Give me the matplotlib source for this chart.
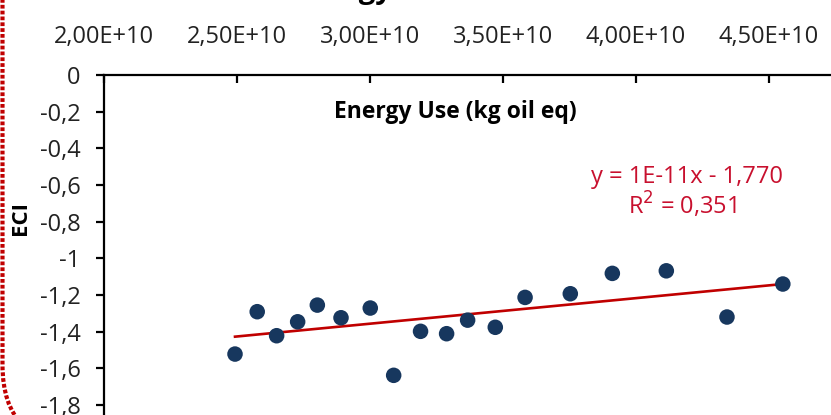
import numpy as np
import matplotlib
matplotlib.use("Agg")
import matplotlib.pyplot as plt
from matplotlib.patches import FancyBboxPatch
from matplotlib.transforms import Affine2D

# ---- data ----
energy_use = [2.4925e10, 2.576e10, 2.649e10, 2.728e10, 2.802e10, 2.891e10,
              3.001e10, 3.089e10, 3.190e10, 3.288e10, 3.367e10, 3.471e10,
              3.583e10, 3.753e10, 3.911e10, 4.114e10, 4.342e10, 4.552e10]
eci = [-1.522, -1.291, -1.422, -1.346, -1.255, -1.324,
       -1.271, -1.638, -1.398, -1.411, -1.337, -1.376,
       -1.213, -1.193, -1.082, -1.068, -1.320, -1.140]

xtick_values = [2.0e10, 2.5e10, 3.0e10, 3.5e10, 4.0e10, 4.5e10]
xtick_labels = ["2,00E+10", "2,50E+10", "3,00E+10", "3,50E+10", "4,00E+10", "4,50E+10"]
ytick_values = [0, -0.2, -0.4, -0.6, -0.8, -1.0, -1.2, -1.4, -1.6, -1.8]
ytick_labels = ["0", "-0,2", "-0,4", "-0,6", "-0,8", "-1", "-1,2", "-1,4", "-1,6", "-1,8"]

equation_text = "y = 1E-11x - 1,770"
r2_text = "R$^2$ = 0,351"
x_label = "Energy Use (kg oil eq)"
y_label = "ECI"
title_text = "Energy Use"

# ---- figure ----
W, H = 831, 415
plt.rcParams['font.family'] = ['Open Sans', 'DejaVu Sans']
fig = plt.figure(figsize=(W / 100, H / 100), dpi=100)

left_px, top_px = 104, 75
ax = fig.add_axes([left_px / W, 0, 1 - left_px / W, (H - top_px) / H])
x_per_px = 0.5e10 / 133.0
y_per_px = 0.2 / 36.67
ax.set_xlim(2.0e10, 2.0e10 + (W - left_px) * x_per_px)
ax.set_ylim(-(H - top_px) * y_per_px, 0)

navy = "#17375E"
red = "#C00000"

ax.scatter(energy_use, eci, s=125, color=navy, edgecolors='none', zorder=3)

# linear trendline
xs = np.array(energy_use)
coef = np.polyfit(xs, np.array(eci), 1)
xl = np.array([xs.min(), xs.max()])
ax.plot(xl, np.polyval(coef, xl), color=red, lw=1.9, zorder=2)

# axes styling
ax.spines['right'].set_visible(False)
ax.spines['bottom'].set_visible(False)
ax.spines['top'].set_linewidth(1.6)
ax.spines['left'].set_linewidth(1.6)
ax.xaxis.tick_top()
ax.set_xticks(xtick_values)
ax.set_xticklabels(xtick_labels)
ax.set_yticks(ytick_values)
ax.set_yticklabels(ytick_labels)
ax.tick_params(axis='x', direction='in', length=6, width=1.6, pad=19,
               labelsize=17, labelcolor='#222222')
ax.tick_params(axis='y', direction='out', length=6, width=1.6, pad=11,
               labelsize=17, labelcolor='#222222')
for lab in ax.get_yticklabels():
    lab.set_clip_on(False)

# axis titles
fig.text(455 / W, 1 - 112 / H, x_label, ha='center', va='center',
         fontsize=16.5, fontweight='bold', color='black')
fig.text(20 / W, 1 - 218 / H, y_label, ha='center', va='center',
         rotation=90, fontsize=16, fontweight='bold', color='black')

# equation
fig.text(687 / W, 1 - 177 / H, equation_text, ha='center', va='center',
         fontsize=17, color='#C8102E')
fig.text(682 / W, 1 - 205 / H, r2_text, ha='center', va='center',
         fontsize=17, color='#C8102E')

# top title (mostly cut off)
fig.text(293 / W, 1 + 2 / H, title_text, ha='left', va='baseline',
         fontsize=21, fontweight='bold', color='black')

# dotted red border (rounded corner at bottom-left)
pix = Affine2D().scale(1 / W, 1 / H) + fig.transFigure
border = FancyBboxPatch((2.5, -30), 1200, 600,
                        boxstyle="round,pad=0,rounding_size=80",
                        transform=pix, fill=False, edgecolor=red,
                        linewidth=3.0, linestyle=(0, (0.9, 0.5)),
                        capstyle='butt', clip_on=False)
fig.patches.append(border)

fig.savefig("out.png", dpi=100)
